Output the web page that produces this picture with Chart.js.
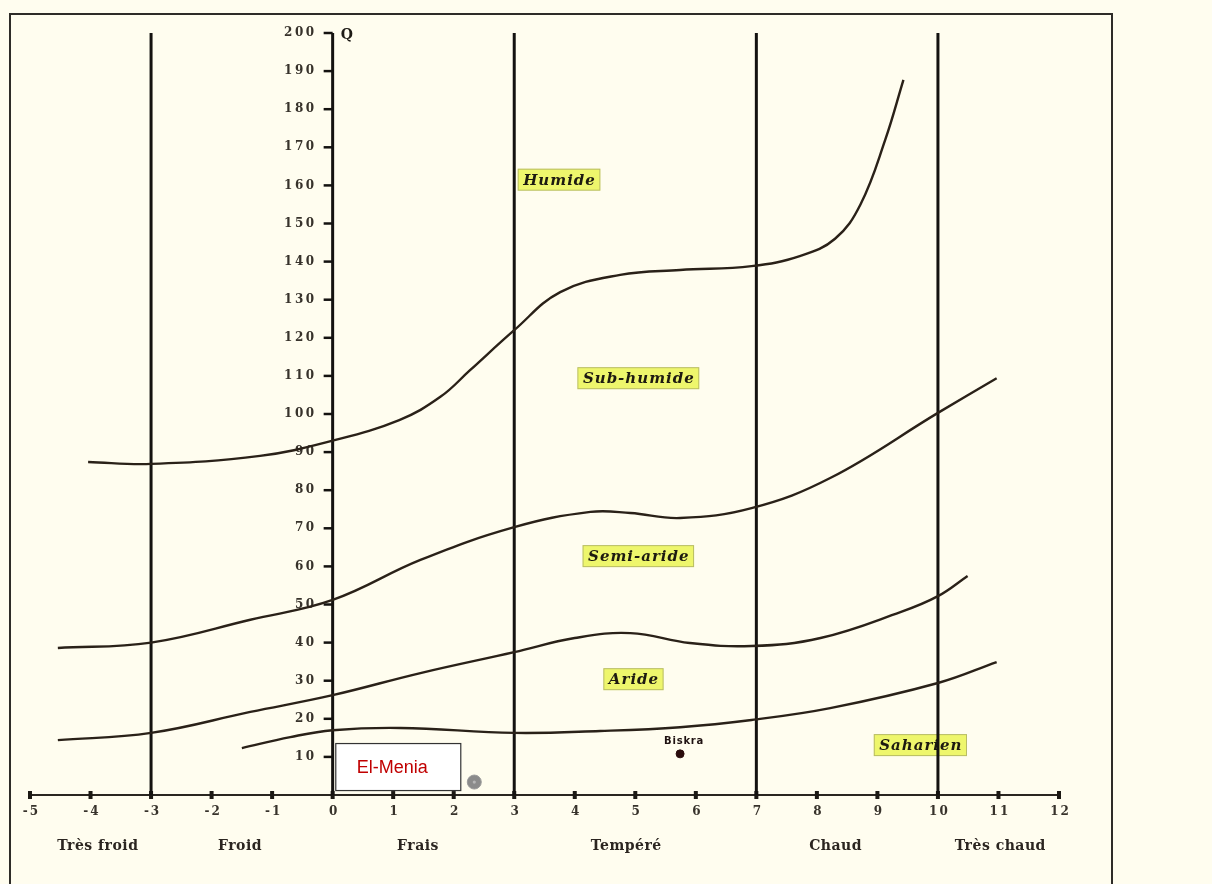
<!DOCTYPE html>
<html>
<head>
<meta charset="utf-8">
<title>Climagramme d'Emberger</title>
<script src="https://cdn.jsdelivr.net/npm/chart.js@4/dist/chart.umd.min.js"></script>
<style>
  html, body { margin: 0; padding: 0; background: #fffdef; }
  canvas { display: block; }
</style>
</head>
<body>
<canvas id="climagramme" width="1212" height="884"></canvas>
<script>
// m (°C) ticks on the horizontal axis and Q ticks on the vertical axis
const mTicks = [-5, -4, -3, -2, -1, 0, 1, 2, 3, 4, 5, 6, 7, 8, 9, 10, 11, 12];
const qTicks = [10, 20, 30, 40, 50, 60, 70, 80, 90, 100, 110, 120, 130, 140, 150, 160, 170, 180, 190, 200];

// vertical limits between the winter variants
const winterLimits = [-3, 3, 7, 10];

// winter variant names and where they sit along m
const winterNames = ['Très froid', 'Froid', 'Frais', 'Tempéré', 'Chaud', 'Très chaud'];
const winterNameM = [-3.88, -1.53, 1.41, 4.85, 8.31, 11.03];

// bioclimatic limits, [m, Q]
const limitHumide = [[-4.04, 87.4], [-3, 86.9], [-1.2, 89], [0, 93], [1.1, 98.4], [1.78, 104.5], [2.27, 111.5], [3, 122], [3.76, 132], [4.75, 136.5], [5.74, 137.8], [6.92, 138.8], [7.73, 141.5], [8.3, 146], [8.72, 155], [9.13, 172], [9.43, 187.7]];
const limitSubHumide = [[-4.54, 38.6], [-3, 40], [-1.36, 46], [0, 51.2], [1.45, 61.7], [3, 70.3], [4.26, 74.3], [4.92, 74], [5.74, 72.7], [6.92, 75.3], [8.22, 83.2], [10, 100.3], [10.97, 109.4]];
const limitSemiAride = [[-4.54, 14.4], [-3, 16.3], [-1.36, 21.8], [0, 26.2], [1.45, 32], [3, 37.5], [4.0, 41.2], [4.92, 42.5], [5.9, 39.9], [6.92, 39.1], [8.06, 41.2], [9.38, 48], [10, 52.2], [10.49, 57.5]];
const limitAride = [[-1.5, 12.3], [-0.7, 15.2], [0, 17], [1.12, 17.6], [3, 16.3], [4.42, 16.8], [5.74, 17.8], [6.92, 19.7], [8.22, 22.8], [10, 29.4], [10.97, 34.9]];

// bioclimatic stage names and their anchor [m, Q]
const stageNames = ['Humide', 'Sub-humide', 'Semi-aride', 'Aride', 'Saharien'];
const stageAnchors = [[3.74, 161.5], [5.05, 109.4], [5.05, 62.7], [4.97, 30.4], [9.71, 13.1]];

// stations [m, Q]
const biskra = [5.74, 10.8];
const elMenia = [2.34, 3.4];

const toPoints = arr => arr.map(([x, y]) => ({ x, y }));

const INK = '#2a2118';
const SERIF = "'DejaVu Serif', 'Liberation Serif', serif";

const curveStyle = {
  borderColor: INK,
  borderWidth: 2.4,
  pointRadius: 0,
  fill: false,
  showLine: true,
  tension: 0.4
};

const datasets = [
  { label: 'Humide / Sub-humide', data: toPoints(limitHumide), ...curveStyle },
  { label: 'Sub-humide / Semi-aride', data: toPoints(limitSubHumide), ...curveStyle },
  { label: 'Semi-aride / Aride', data: toPoints(limitSemiAride), ...curveStyle },
  { label: 'Aride / Saharien', data: toPoints(limitAride), ...curveStyle },
  ...winterLimits.map(m => ({
    label: 'm = ' + m,
    data: [{ x: m, y: 0 }, { x: m, y: 200.8 }],
    borderColor: '#141210',
    borderWidth: 3,
    pointRadius: 0,
    showLine: true,
    tension: 0
  })),
  {
    label: 'Biskra',
    data: [{ x: biskra[0], y: biskra[1] }],
    showLine: false,
    pointRadius: 4,
    pointBackgroundColor: '#2a0c0c',
    pointBorderColor: '#2a0c0c'
  },
  {
    label: 'El-Menia',
    data: [{ x: elMenia[0], y: elMenia[1] }],
    showLine: false,
    pointRadius: 7,
    pointBackgroundColor: '#8b8b8b',
    pointBorderColor: '#9c9c9c',
    pointBorderWidth: 1
  }
];

function spacedText(ctx, text, x, y, spacing) {
  ctx.letterSpacing = spacing + 'px';
  ctx.fillText(text, x, y);
  ctx.letterSpacing = '0px';
}

const climagramPlugin = {
  id: 'climagram',
  beforeDraw(chart) {
    const ctx = chart.ctx;
    ctx.save();
    ctx.fillStyle = '#fffdef';
    ctx.fillRect(0, 0, chart.width, chart.height);
    ctx.strokeStyle = '#2e2c28';
    ctx.lineWidth = 2;
    ctx.strokeRect(10, 14, 1102, 900);
    ctx.restore();
  },
  beforeDatasetsDraw(chart) {
    const ctx = chart.ctx;
    const xs = chart.scales.x, ys = chart.scales.y;
    const x0 = xs.getPixelForValue(0);
    const yBase = ys.getPixelForValue(0);
    ctx.save();

    // stage names on a highlighted box
    ctx.font = 'bold italic 15px ' + SERIF;
    ctx.textAlign = 'center';
    ctx.textBaseline = 'middle';
    stageNames.forEach((name, i) => {
      const px = xs.getPixelForValue(stageAnchors[i][0]);
      const py = ys.getPixelForValue(stageAnchors[i][1]);
      ctx.letterSpacing = '1px';
      const w = ctx.measureText(name).width + 10;
      ctx.fillStyle = '#eef66c';
      ctx.fillRect(px - w / 2, py - 11, w, 22);
      ctx.strokeStyle = 'rgba(120,120,90,0.45)';
      ctx.lineWidth = 1;
      ctx.strokeRect(px - w / 2 + 0.5, py - 10.5, w - 1, 21);
      ctx.fillStyle = '#1d1a10';
      ctx.fillText(name, px + 0.5, py + 1);
      ctx.letterSpacing = '0px';
    });

    // m axis
    const xLeft = xs.getPixelForValue(mTicks[0]);
    const xRight = xs.getPixelForValue(mTicks[mTicks.length - 1]);
    ctx.strokeStyle = '#2a2620';
    ctx.lineWidth = 2.2;
    ctx.beginPath();
    ctx.moveTo(xLeft, yBase);
    ctx.lineTo(xRight, yBase);
    ctx.stroke();
    ctx.fillStyle = '#1c1914';
    mTicks.forEach(m => {
      const px = xs.getPixelForValue(m);
      ctx.fillRect(px - 2, yBase - 4, 4, 8);
    });
    ctx.font = 'bold 12px ' + SERIF;
    ctx.fillStyle = '#37322b';
    ctx.textAlign = 'center';
    ctx.textBaseline = 'middle';
    mTicks.forEach(m => {
      const px = xs.getPixelForValue(m);
      spacedText(ctx, m < 0 ? '-' + Math.abs(m) : String(m), px + 1.5, yBase + 17, 2);
    });

    // winter variant names
    ctx.font = 'bold 14px ' + SERIF;
    ctx.fillStyle = '#2b2520';
    winterNames.forEach((name, i) => {
      spacedText(ctx, name, xs.getPixelForValue(winterNameM[i]), yBase + 51, 0.5);
    });

    // Q axis drawn at m = 0
    const yTop = ys.getPixelForValue(200);
    ctx.strokeStyle = '#141210';
    ctx.lineWidth = 3;
    ctx.beginPath();
    ctx.moveTo(x0, yTop);
    ctx.lineTo(x0, yBase);
    ctx.stroke();
    ctx.lineWidth = 2.5;
    ctx.font = 'bold 12px ' + SERIF;
    ctx.fillStyle = '#37322b';
    ctx.textAlign = 'right';
    qTicks.forEach(q => {
      const py = ys.getPixelForValue(q);
      ctx.beginPath();
      ctx.moveTo(x0 - 9, py);
      ctx.lineTo(x0, py);
      ctx.stroke();
      spacedText(ctx, String(q), x0 - 16, py, 2.5);
    });
    ctx.font = 'bold 14px ' + SERIF;
    ctx.textAlign = 'left';
    ctx.fillStyle = '#1d1a15';
    ctx.fillText('Q', x0 + 8, yTop + 2);
    ctx.restore();
  },
  afterDatasetsDraw(chart) {
    const ctx = chart.ctx;
    const xs = chart.scales.x, ys = chart.scales.y;
    ctx.save();

    // Biskra label above its point
    const bx = xs.getPixelForValue(biskra[0]);
    const by = ys.getPixelForValue(biskra[1]);
    ctx.font = 'bold 10px "DejaVu Sans", sans-serif';
    ctx.fillStyle = '#1f1212';
    ctx.textAlign = 'center';
    ctx.textBaseline = 'middle';
    spacedText(ctx, 'Biskra', bx + 4, by - 12, 0.8);

    // El-Menia callout to the left of its point
    const ex = xs.getPixelForValue(elMenia[0]);
    const ey = ys.getPixelForValue(elMenia[1]);
    const boxR = ex - 13, boxL = ex - 139, boxT = ey - 39, boxB = ey + 9;
    ctx.fillStyle = '#ffffff';
    ctx.fillRect(boxL, boxT, boxR - boxL, boxB - boxT);
    ctx.strokeStyle = '#333333';
    ctx.lineWidth = 1.2;
    ctx.strokeRect(boxL + 0.5, boxT + 0.5, boxR - boxL - 1, boxB - boxT - 1);
    ctx.font = '18px "Liberation Sans", Arial, sans-serif';
    ctx.fillStyle = '#c00000';
    ctx.textAlign = 'center';
    ctx.fillText('El-Menia', (boxL + boxR) / 2 - 6, (boxT + boxB) / 2 + 1);

    // light centre on the El-Menia marker
    ctx.fillStyle = '#b5b5b5';
    ctx.beginPath();
    ctx.arc(ex, ey, 1.6, 0, Math.PI * 2);
    ctx.fill();
    ctx.restore();
  }
};

new Chart(document.getElementById('climagramme'), {
  type: 'scatter',
  data: { datasets },
  options: {
    responsive: false,
    animation: false,
    events: [],
    layout: { padding: { left: 30, right: 153, top: 33, bottom: 89 } },
    scales: {
      x: { type: 'linear', min: -5, max: 12, display: false },
      y: { type: 'linear', min: 0, max: 200, display: false }
    },
    plugins: {
      legend: { display: false },
      tooltip: { enabled: false }
    }
  },
  plugins: [climagramPlugin]
});
</script>
</body>
</html>
